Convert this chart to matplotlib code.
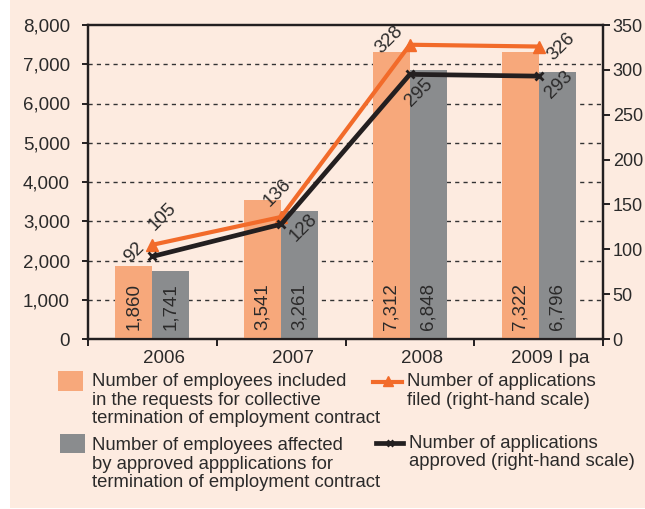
import numpy as np
import matplotlib
matplotlib.use("Agg")
import matplotlib.pyplot as plt
from matplotlib.patches import Rectangle
from matplotlib.lines import Line2D
from matplotlib.ticker import FuncFormatter, FixedLocator
import matplotlib.transforms as mtransforms

plt.rcParams['font.family'] = ['Liberation Sans', 'DejaVu Sans']

years = ["2006", "2007", "2008", "2009 I pa"]
employees_requested = [1860, 3541, 7312, 7322]
employees_approved = [1741, 3261, 6848, 6796]
applications_filed = [105, 136, 328, 326]
applications_approved = [92, 128, 295, 293]

legend_labels = [
    ["Number of employees included", "in the requests for collective",
     "termination of employment contract"],
    ["Number of employees affected", "by approved appplications for",
     "termination of employment contract"],
    ["Number of applications", "filed (right-hand scale)"],
    ["Number of applications", "approved (right-hand scale)"],
]

PEACH = "#FDEBE0"
ORANGE_BAR = "#F7A87B"
GREY_BAR = "#8A8C8E"
ORANGE_LINE = "#F26B2A"
DARK = "#231F20"
TXT = "#2B2A2A"

W, H = 645, 509
fig = plt.figure(figsize=(W / 100, H / 100), dpi=100, facecolor="white")
fig.add_artist(Rectangle((10 / W, 1 - 508 / H), 635 / W, 508 / H,
                         transform=fig.transFigure, facecolor=PEACH,
                         edgecolor="none", zorder=-10))

ax = fig.add_axes([88 / W, 1 - 339 / H, (603 - 88) / W, (339 - 25) / H])
ax.set_facecolor("none")
ax2 = ax.twinx()
ax2.set_facecolor("none")

x = np.arange(len(years))
bw = 0.287
ax.bar(x - bw / 2, employees_requested, bw, color=ORANGE_BAR, zorder=3)
ax.bar(x + bw / 2, employees_approved, bw, color=GREY_BAR, zorder=3)

for xi, v in zip(x - bw / 2, employees_requested):
    ax.text(xi, 220, f"{v:,}", rotation=90, ha="center", va="bottom",
            fontsize=13.5, color=TXT, zorder=4)
for xi, v in zip(x + bw / 2, employees_approved):
    ax.text(xi, 220, f"{v:,}", rotation=90, ha="center", va="bottom",
            fontsize=13.5, color=TXT, zorder=4)

ax.set_xlim(-0.5, len(years) - 0.5)
ax.set_ylim(0, 8000)
ax.set_yticks(np.arange(0, 8001, 1000))
ax.yaxis.set_major_formatter(FuncFormatter(lambda v, p: f"{int(v):,}"))
for gy in range(1000, 8000, 1000):
    ax.axhline(gy, color="#333333", lw=1.0, ls=(0, (3, 3)), zorder=1)

ax2.set_ylim(0, 350)
ax2.set_yticks(np.arange(0, 351, 50))

ax2.plot(x, applications_filed, color=ORANGE_LINE, lw=3, marker="^",
         ms=8, zorder=5, solid_joinstyle="miter")
ax2.plot(x, applications_approved, color=DARK, lw=3.4, marker="x",
         ms=6, mew=2, zorder=6)

# value labels of the two lines, rotated along the diagonal
filed_off = [(10, 28), (-4, 24), (-21, 5), (23, 0)]
approved_off = [(-18, 4), (22, -4), (9, -18), (20, -9)]
for xi, v, (dx, dy) in zip(x, applications_filed, filed_off):
    ax2.annotate(str(v), (xi, v), xytext=(dx * 0.72, dy * 0.72),
                 textcoords="offset points", rotation=45, ha="center",
                 va="center", fontsize=13.5, color=TXT, zorder=7)
for xi, v, (dx, dy) in zip(x, applications_approved, approved_off):
    ax2.annotate(str(v), (xi, v), xytext=(dx * 0.72, dy * 0.72),
                 textcoords="offset points", rotation=45, ha="center",
                 va="center", fontsize=13.5, color=TXT, zorder=7)

for a in (ax, ax2):
    for s in a.spines.values():
        s.set_color(DARK)
        s.set_linewidth(1.6)

ax.tick_params(axis="y", direction="out", length=4, width=1.4, color=DARK,
               pad=9, labelsize=13.5, labelcolor=TXT)
ax2.tick_params(axis="y", direction="out", length=5, width=1.4, color=DARK,
                pad=2, labelsize=13, labelcolor=TXT)

ax.set_xticks(x)
ax.set_xticklabels(years)
ax.xaxis.set_minor_locator(FixedLocator(np.arange(-0.5, len(years), 1.0)))
ax.tick_params(axis="x", which="major", length=0, pad=8, labelsize=13.5,
               labelcolor=TXT)
ax.tick_params(axis="x", which="minor", direction="out", length=5,
               width=1.4, color=DARK)
shift = mtransforms.ScaledTranslation(12 / 100, 0, fig.dpi_scale_trans)
for lbl in ax.get_xticklabels():
    lbl.set_transform(lbl.get_transform() + shift)

# legend, drawn by hand in figure pixels
def fy(py):
    return 1 - py / H

fig.add_artist(Rectangle((58 / W, fy(391)), 25 / W, 20 / H,
                         transform=fig.transFigure, facecolor=ORANGE_BAR,
                         edgecolor="none"))
fig.add_artist(Rectangle((60 / W, fy(453)), 25 / W, 19 / H,
                         transform=fig.transFigure, facecolor=GREY_BAR,
                         edgecolor="none"))
for lines, x0, y0 in [(legend_labels[0], 92, 382), (legend_labels[1], 92, 446),
                      (legend_labels[2], 407, 382), (legend_labels[3], 409, 443)]:
    for i, t in enumerate(lines):
        fig.text(x0 / W, fy(y0 + i * 18.3), t, ha="left", va="center",
                 fontsize=13.3, color=TXT)

fig.add_artist(Line2D([373 / W, 402 / W], [fy(382), fy(382)],
                      transform=fig.transFigure, color=ORANGE_LINE, lw=3))
fig.add_artist(Line2D([387.5 / W], [fy(381)], transform=fig.transFigure,
                      color=ORANGE_LINE, marker="^", ms=7, lw=0))
fig.add_artist(Line2D([376 / W, 403 / W], [fy(443), fy(443)],
                      transform=fig.transFigure, color=DARK, lw=3.4))
fig.add_artist(Line2D([389.5 / W], [fy(443)], transform=fig.transFigure,
                      color=DARK, marker="x", ms=5, mew=2, lw=0))

fig.savefig("out.png", dpi=100)
